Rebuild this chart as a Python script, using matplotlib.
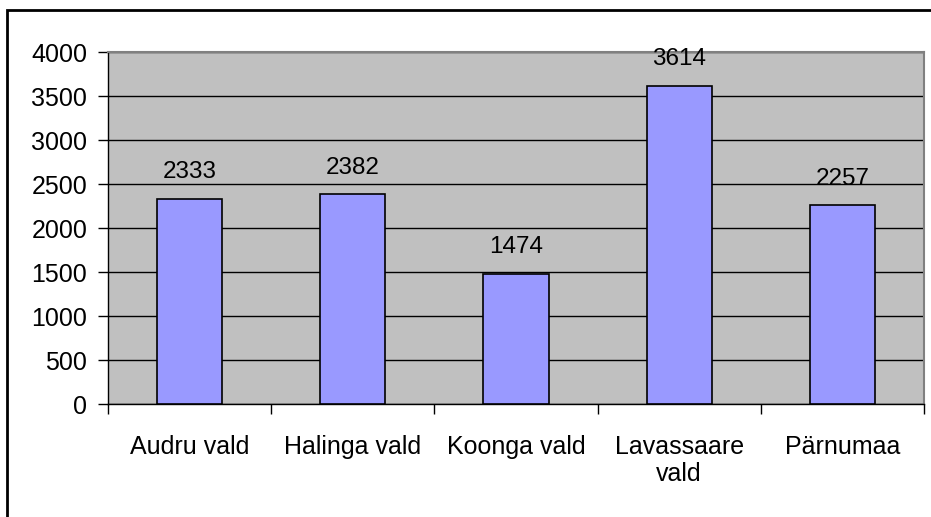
import matplotlib.pyplot as plt
import numpy as np
from matplotlib.patches import Rectangle

categories = ['Audru vald', 'Halinga vald', 'Koonga vald', 'Lavassaare\nvald', 'Pärnumaa']
values = [2333, 2382, 1474, 3614, 2257]
yticks = [0, 500, 1000, 1500, 2000, 2500, 3000, 3500, 4000]

plt.rcParams['font.family'] = ['Liberation Sans', 'DejaVu Sans']

fig = plt.figure(figsize=(9.31, 5.17), dpi=100)
ax = fig.add_axes([108/931, 1-404/517, 816/931, 352/517])

x = np.arange(len(categories))
ax.bar(x, values, width=0.4, color='#9999FF', edgecolor='black', linewidth=1.2, zorder=3)
for xi, v in zip(x, values):
    ax.annotate(str(v), (xi, v), xytext=(0, 15), textcoords='offset points',
                ha='center', va='baseline', fontsize=17.5)

ax.set_facecolor('#C0C0C0')
ax.set_xlim(-0.5, len(categories) - 0.5)
ax.set_ylim(0, 4000)
ax.set_yticks(yticks)
ax.set_yticklabels([str(t) for t in yticks], fontsize=18)
ax.yaxis.grid(True, color='black', linewidth=1, zorder=1)
ax.set_axisbelow(True)

ax.set_xticks(x)
ax.set_xticklabels(categories, fontsize=18, linespacing=1.2)
ax.set_xticks(np.arange(len(categories) + 1) - 0.5, minor=True)
ax.tick_params(axis='x', which='major', length=0, pad=22)
ax.tick_params(axis='x', which='minor', length=7, width=1, direction='out')
ax.tick_params(axis='y', length=7, width=1, direction='out', pad=8)

for s in ['top', 'right']:
    ax.spines[s].set_color('#808080')
    ax.spines[s].set_linewidth(1.5)
for s in ['left', 'bottom']:
    ax.spines[s].set_color('black')
    ax.spines[s].set_linewidth(1)

# outer chart frame
fig.patches.append(Rectangle((7/931, -0.1), 1.2, 1 - 10/517 + 0.1, transform=fig.transFigure,
                             fill=False, edgecolor='black', linewidth=2))

fig.savefig('out.png', dpi=100, facecolor='white')
